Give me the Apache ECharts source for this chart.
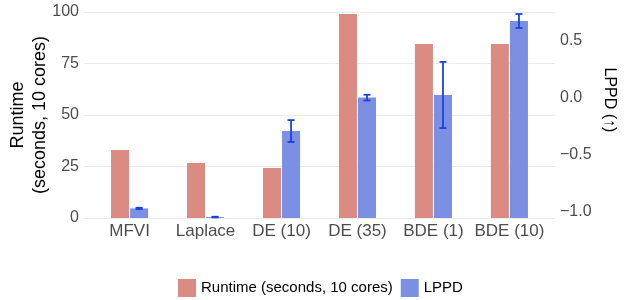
<!DOCTYPE html>
<html>
<head>
<meta charset="utf-8">
<script src="https://cdn.jsdelivr.net/npm/echarts@6/dist/echarts.min.js"></script>
<style>
  html, body { margin: 0; padding: 0; background: #fff; }
  #main { width: 630px; height: 300px; }
</style>
</head>
<body>
<div id="main"></div>
<script>
// data
const categories = ['MFVI', 'Laplace', 'DE (10)', 'DE (35)', 'BDE (1)', 'BDE (10)'];
const runtime = [33.0, 26.7, 24.3, 99.0, 84.5, 84.5];
const lppd = [-0.969, -1.045, -0.29, 0.003, 0.026, 0.675];
const lppdErr = [0.006, 0.003, 0.096, 0.025, 0.29, 0.061];
const runtimeTicks = [0, 25, 50, 75, 100];
const lppdTicks = [-1.0, -0.5, 0.0, 0.5];

const LPPD_MIN = -1.053;
const LPPD_MAX = 0.754;
const FONT = "'Liberation Sans', Arial, sans-serif";

const xs = categories.map((c, i) => i + 1);

// bars sit either side of the category centre
function barItem(side, base) {
  return function (params, api) {
    const x = api.value(0);
    const top = api.coord([x, api.value(1)]);
    const bottom = api.coord([x, base]);
    const unit = api.size([1, 0])[0];
    const w = unit * 0.237, gap = unit * 0.007;
    const left = side < 0 ? top[0] - gap - w : top[0] + gap;
    return {
      type: 'rect',
      shape: { x: left, y: top[1], width: w, height: bottom[1] - top[1] },
      style: api.style()
    };
  };
}

function errorItem(params, api) {
  const x = api.value(0), c = api.value(1), e = api.value(2);
  const hi = api.coord([x, c + e]);
  const lo = api.coord([x, c - e]);
  const unit = api.size([1, 0])[0];
  const cx = hi[0] + unit * 0.007 + unit * 0.237 / 2;
  const cap = 3.5;
  const st = { stroke: '#1f42da', lineWidth: 1.8 };
  return {
    type: 'group',
    children: [
      { type: 'line', shape: { x1: cx, y1: hi[1], x2: cx, y2: lo[1] }, style: st },
      { type: 'line', shape: { x1: cx - cap, y1: hi[1], x2: cx + cap, y2: hi[1] }, style: st },
      { type: 'line', shape: { x1: cx - cap, y1: lo[1], x2: cx + cap, y2: lo[1] }, style: st }
    ]
  };
}

const fmt = v => (v < 0 ? '\u2212' : '') + Math.abs(v).toFixed(1);

var myChart = echarts.init(document.getElementById('main'));
var option = {
  animation: false,
  textStyle: { fontFamily: FONT },
  grid: { left: 84, right: 75, top: 12, bottom: 82, outerBoundsMode: 'none', containLabel: false },
  legend: {
    left: 173,
    top: 274,
    itemWidth: 18,
    itemHeight: 18,
    itemGap: 8,
    icon: 'rect',
    data: ['Runtime (seconds, 10 cores)', 'LPPD'],
    textStyle: { fontSize: 15, color: '#000', fontFamily: FONT }
  },
  xAxis: {
    type: 'value',
    min: 0.4,
    max: 6.6,
    axisLine: { show: false },
    axisTick: { show: false },
    splitLine: { show: false },
    axisLabel: {
      customValues: xs,
      formatter: v => categories[Math.round(v) - 1],
      fontSize: 17,
      color: '#4d4d4d',
      margin: 5
    }
  },
  yAxis: [
    {
      type: 'value',
      min: 0,
      max: 100,
      interval: 25,
      name: 'Runtime\n(seconds, 10 cores)',
      nameLocation: 'middle',
      nameRotate: 90,
      nameGap: 33,
      nameMoveOverlap: false,
      nameTextStyle: { fontSize: 18, color: '#000', lineHeight: 22 },
      axisLine: { show: false },
      axisTick: { show: false },
      axisLabel: { fontSize: 16, color: '#4d4d4d', margin: 5 },
      splitLine: { lineStyle: { color: '#ebebeb', width: 1 } }
    },
    {
      type: 'value',
      min: LPPD_MIN,
      max: LPPD_MAX,
      name: 'LPPD (\u2191)',
      nameLocation: 'middle',
      nameRotate: -90,
      nameGap: 46,
      nameMoveOverlap: false,
      nameTextStyle: { fontSize: 16, color: '#000', padding: [0, 30, 0, 0] },
      axisLine: { show: false },
      axisTick: { show: false },
      splitLine: { show: false },
      axisLabel: {
        customValues: lppdTicks,
        formatter: fmt,
        fontSize: 16,
        color: '#4d4d4d',
        margin: 5
      }
    }
  ],
  series: [
    {
      name: 'Runtime (seconds, 10 cores)',
      type: 'custom',
      yAxisIndex: 0,
      itemStyle: { color: '#dc8b83' },
      encode: { x: 0, y: 1 },
      renderItem: barItem(-1, 0),
      data: xs.map((x, i) => [x, runtime[i]])
    },
    {
      name: 'LPPD',
      type: 'custom',
      yAxisIndex: 1,
      itemStyle: { color: '#7b8fe3' },
      encode: { x: 0, y: 1 },
      renderItem: barItem(1, LPPD_MIN),
      data: xs.map((x, i) => [x, lppd[i]])
    },
    {
      name: 'LPPD error',
      type: 'custom',
      yAxisIndex: 1,
      encode: { x: 0, y: 1 },
      renderItem: errorItem,
      z: 5,
      data: xs.map((x, i) => [x, lppd[i], lppdErr[i]])
    }
  ]
};
myChart.setOption(option);
</script>
</body>
</html>
